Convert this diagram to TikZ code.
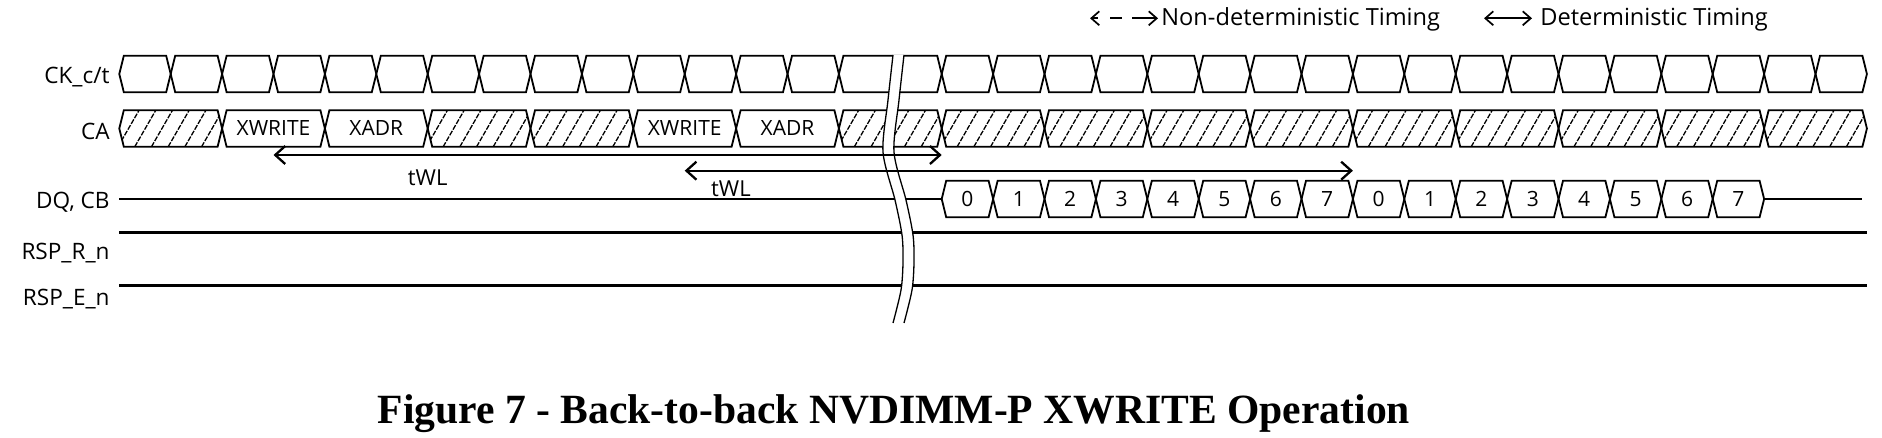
\documentclass[tikz,border=0pt]{standalone}
\usepackage{fontspec}
\setmainfont{Open Sans}
\newfontfamily\capfont{Liberation Serif}
\usetikzlibrary{arrows.meta}

\tikzset{
  cell/.style={line width=0.9pt},
  hatch/.style={line width=0.65pt, dash pattern=on 2.6pt off 0.7pt},
  level/.style={line width=1.3pt},
  brk/.style={line width=0.65pt},
  tw/.style={line width=1.15pt, {Straight Barb[length=5pt,width=9pt]}-{Straight Barb[length=5pt,width=9pt]}},
  leg/.style={line width=0.85pt, {Straight Barb[length=4pt,width=7pt]}-{Straight Barb[length=4pt,width=7pt]}},
  lbl/.style={font=\fontsize{11.3}{13}\selectfont, anchor=base east, inner sep=0pt},
  txt/.style={font=\fontsize{10.5}{12}\selectfont, anchor=base, inner sep=0pt},
  twl/.style={font=\fontsize{11}{13}\selectfont, anchor=base, inner sep=0pt},
  legtxt/.style={font=\fontsize{11.8}{14}\selectfont, anchor=base west, inner sep=0pt},
}

\newcommand{\hexcell}[3]{%
  \draw[cell] (#1,#3) -- ({#1+0.088},{#3-18.3}) -- ({#2-0.088},{#3-18.3}) -- (#2,#3)
    -- ({#2-0.088},{#3+18.3}) -- ({#1+0.088},{#3+18.3}) -- cycle;}
\newcommand{\hatchcell}[3]{%
  \begin{scope}
    \clip (#1,#3) -- ({#1+0.088},{#3-18.3}) -- ({#2-0.088},{#3-18.3}) -- (#2,#3)
      -- ({#2-0.088},{#3+18.3}) -- ({#1+0.088},{#3+18.3}) -- cycle;
    \foreach \k in {0,...,7}
      \draw[hatch] ({#1-0.35+\k*0.325},{#3+18.3}) -- ++(0.41,-36.6);
  \end{scope}
  \hexcell{#1}{#2}{#3}}

\begin{document}
\begin{tikzpicture}[x=0.5pt,y=-0.5pt]
  \useasboundingbox (0,0) rectangle (1882,438);

  \node[lbl] (ck) at (110,84) {CK\_c/t};
  \node[lbl] (ca) at (110,140) {CA};
  \node[lbl] (dq) at (110,209) {DQ, CB};
  \node[lbl] (rr) at (110,259) {RSP\_R\_n};
  \node[lbl] (re) at (110,305) {RSP\_E\_n};

  \begin{scope}[shift={(119.3,0)}, x=25.7pt]
    \foreach \i in {0,...,13} \hexcell{\i}{\i+1}{74};
    \hexcell{14}{16}{74};
    \foreach \i in {16,...,33} \hexcell{\i}{\i+1}{74};

    \foreach \i in {0,6,8,14,16,...,32} \hatchcell{\i}{\i+2}{128.5};
    \foreach \i in {2,4,10,12} \hexcell{\i}{\i+2}{128.5};
    \node[txt] (w1) at (3,136) {XWRITE};
    \node[txt] (a1) at (5,136) {XADR};
    \node[txt] (w2) at (11,136) {XWRITE};
    \node[txt] (a2) at (13,136) {XADR};

    \draw[level] (0,199) -- (16,199);
    \foreach \k [evaluate=\k as \n using {int(mod(\k,8))}] in {0,...,15} {
      \hexcell{16+\k}{17+\k}{199}
      \node[txt] (d\k) at (16.5+\k,206) {\n};
    }
    \draw[level] (32,199) -- (33.9,199);
    \draw[level] (0,232.7) -- (34,232.7);
    \draw[level] (0,285.3) -- (34,285.3);

    \coordinate (s1) at (3,155);
    \coordinate (e1) at (16,155);
    \coordinate (s2) at (11,170.7);
    \coordinate (e2) at (24,170.7);
    \node[twl] (t1) at (6,185) {tWL};
    \node[twl] (t2) at (11.9,197) {tWL};
  \end{scope}

  \fill[white] plot[smooth] coordinates {(893,55) (888,100) (883,152) (895,200) (902,235) (903,262) (901,290) (893,323)}
    -- plot[smooth] coordinates {(904,323) (912,290) (914,262) (913,235) (906,200) (894,152) (899,100) (904,55)} -- cycle;
  \draw[brk] plot[smooth] coordinates {(893,55) (888,100) (883,152) (895,200) (902,235) (903,262) (901,290) (893,323)};
  \draw[brk] plot[smooth] coordinates {(904,55) (899,100) (894,152) (906,200) (913,235) (914,262) (912,290) (904,323)};

  \draw[tw] (s1) -- (e1);
  \draw[tw] (s2) -- (e2);

  \coordinate (n1) at (1090,18.3);
  \coordinate (n2) at (1158,18.3);
  \draw[leg, dash pattern=on 3pt off 6pt on 6pt off 5pt on 20pt] (n1) -- (n2);
  \node[legtxt] (nt) at (1161,26) {Non-deterministic Timing};
  \coordinate (m1) at (1484,18.3);
  \coordinate (m2) at (1532,18.3);
  \draw[leg] (m1) -- (m2);
  \node[legtxt] (mt) at (1540,26) {Deterministic Timing};

  \node[font=\capfont\bfseries\fontsize{20.8}{24}\selectfont, anchor=base] (cap) at (894,423)
    {Figure 7 - Back-to-back NVDIMM-P XWRITE Operation};
\end{tikzpicture}
\end{document}
